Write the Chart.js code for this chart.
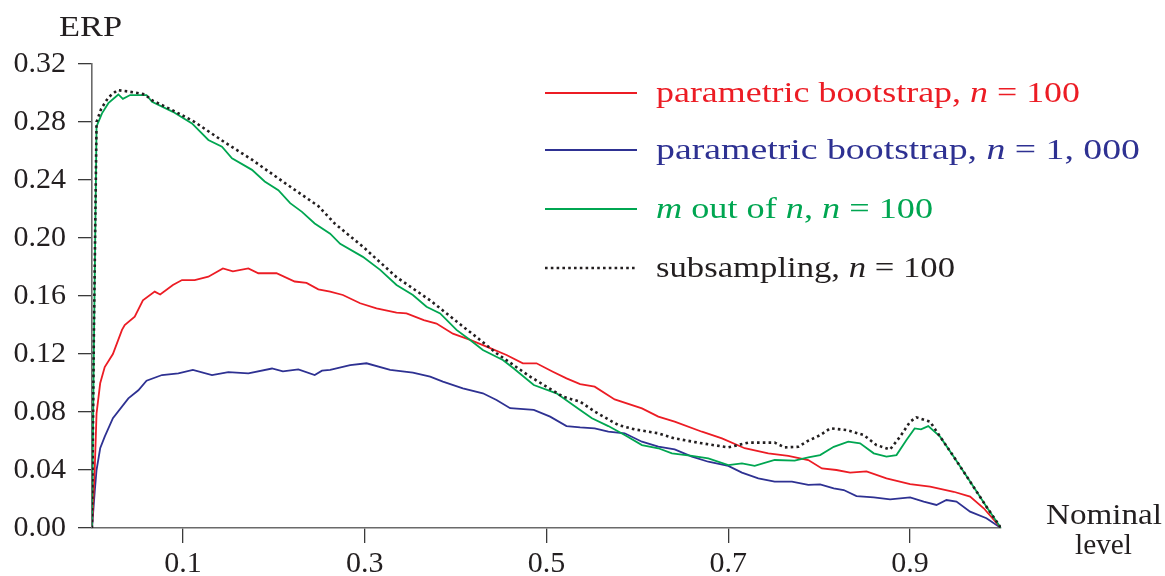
<!DOCTYPE html>
<html>
<head>
<meta charset="utf-8">
<script src="https://cdn.jsdelivr.net/npm/chart.js@4.4.0/dist/chart.umd.min.js"></script>
<style>
  html, body { margin: 0; padding: 0; background: #ffffff; }
  #wrap { width: 1165px; height: 576px; position: relative; }
</style>
</head>
<body>
<div id="wrap"><canvas id="c" width="1165" height="576"></canvas></div>
<script>
// ---------- data ----------
const xTicks = [0.1, 0.3, 0.5, 0.7, 0.9];
const yTicks = [0.00, 0.04, 0.08, 0.12, 0.16, 0.20, 0.24, 0.28, 0.32];

const xRed = [0, 0.003, 0.005, 0.009, 0.014, 0.023, 0.033, 0.036, 0.047, 0.056, 0.069, 0.075, 0.089, 0.099, 0.113, 0.128, 0.144, 0.155, 0.172, 0.183, 0.203, 0.223, 0.236, 0.249, 0.262, 0.276, 0.295, 0.313, 0.335, 0.346, 0.365, 0.379, 0.397, 0.416, 0.438, 0.456, 0.474, 0.489, 0.507, 0.522, 0.537, 0.553, 0.575, 0.605, 0.623, 0.641, 0.671, 0.693, 0.718, 0.744, 0.766, 0.788, 0.803, 0.819, 0.834, 0.852, 0.874, 0.900, 0.922, 0.948, 0.966, 0.981, 1.0];
const yRed = [0, 0.040, 0.079, 0.0998, 0.111, 0.120, 0.1366, 0.140, 0.1457, 0.157, 0.163, 0.161, 0.1676, 0.171, 0.171, 0.1733, 0.179, 0.177, 0.179, 0.1757, 0.1757, 0.170, 0.169, 0.1646, 0.163, 0.1607, 0.155, 0.1515, 0.1485, 0.148, 0.1434, 0.141, 0.134, 0.1297, 0.124, 0.1193, 0.1136, 0.1136, 0.1078, 0.1032, 0.0993, 0.0975, 0.0887, 0.0825, 0.0768, 0.0733, 0.0664, 0.0618, 0.055, 0.0515, 0.0497, 0.0469, 0.0411, 0.040, 0.0382, 0.0391, 0.0343, 0.0303, 0.0285, 0.025, 0.0216, 0.0136, 0];

const xBlue = [0, 0.003, 0.005, 0.009, 0.014, 0.023, 0.040, 0.051, 0.060, 0.077, 0.095, 0.111, 0.132, 0.150, 0.172, 0.198, 0.210, 0.227, 0.245, 0.253, 0.262, 0.284, 0.302, 0.328, 0.353, 0.372, 0.386, 0.408, 0.430, 0.445, 0.460, 0.486, 0.504, 0.522, 0.537, 0.553, 0.568, 0.586, 0.605, 0.623, 0.641, 0.660, 0.678, 0.700, 0.715, 0.733, 0.751, 0.770, 0.788, 0.801, 0.816, 0.827, 0.841, 0.860, 0.878, 0.900, 0.915, 0.929, 0.940, 0.951, 0.966, 0.984, 1.0];
const yBlue = [0, 0.025, 0.040, 0.055, 0.063, 0.0757, 0.0894, 0.095, 0.1016, 0.1055, 0.1067, 0.109, 0.1055, 0.1075, 0.1067, 0.110, 0.108, 0.1094, 0.1055, 0.1085, 0.109, 0.1124, 0.1136, 0.109, 0.1071, 0.1044, 0.101, 0.0963, 0.0929, 0.0883, 0.0826, 0.0814, 0.0768, 0.0703, 0.0694, 0.0687, 0.0664, 0.0653, 0.0595, 0.0561, 0.0542, 0.0492, 0.0457, 0.0428, 0.0382, 0.0343, 0.032, 0.032, 0.0297, 0.0301, 0.0274, 0.0262, 0.022, 0.0211, 0.0198, 0.0211, 0.0182, 0.0159, 0.0193, 0.0182, 0.0113, 0.0067, 0];

const xGreen = [0, 0.002, 0.005, 0.011, 0.018, 0.029, 0.034, 0.042, 0.060, 0.066, 0.089, 0.110, 0.128, 0.143, 0.154, 0.176, 0.190, 0.205, 0.218, 0.231, 0.245, 0.262, 0.273, 0.298, 0.317, 0.335, 0.353, 0.368, 0.383, 0.401, 0.416, 0.430, 0.452, 0.464, 0.486, 0.511, 0.537, 0.550, 0.568, 0.586, 0.605, 0.623, 0.638, 0.660, 0.678, 0.700, 0.715, 0.729, 0.751, 0.773, 0.788, 0.801, 0.816, 0.832, 0.845, 0.860, 0.874, 0.885, 0.896, 0.905, 0.912, 0.920, 0.933, 0.948, 0.966, 0.984, 1.0];
const yGreen = [0, 0.120, 0.277, 0.286, 0.293, 0.299, 0.296, 0.2986, 0.2986, 0.294, 0.287, 0.279, 0.2676, 0.263, 0.255, 0.247, 0.239, 0.233, 0.224, 0.218, 0.210, 0.203, 0.196, 0.187, 0.178, 0.1676, 0.1607, 0.1526, 0.148, 0.1366, 0.1297, 0.1228, 0.1159, 0.110, 0.0986, 0.0929, 0.0814, 0.0757, 0.0703, 0.0641, 0.0572, 0.055, 0.0515, 0.0497, 0.048, 0.0434, 0.0446, 0.0428, 0.0469, 0.0464, 0.0487, 0.0503, 0.056, 0.0595, 0.0584, 0.0515, 0.0492, 0.0503, 0.0607, 0.0687, 0.068, 0.0703, 0.063, 0.0492, 0.032, 0.0147, 0];

const xSub = [0, 0.002, 0.005, 0.010, 0.018, 0.028, 0.040, 0.050, 0.058, 0.066, 0.089, 0.113, 0.146, 0.176, 0.212, 0.249, 0.267, 0.298, 0.335, 0.372, 0.408, 0.427, 0.445, 0.482, 0.518, 0.537, 0.553, 0.579, 0.597, 0.623, 0.641, 0.671, 0.700, 0.722, 0.751, 0.762, 0.777, 0.788, 0.801, 0.812, 0.830, 0.849, 0.863, 0.878, 0.889, 0.900, 0.907, 0.922, 0.933, 0.948, 0.966, 0.984, 1.0];
const ySub = [0, 0.130, 0.280, 0.289, 0.297, 0.302, 0.301, 0.300, 0.299, 0.295, 0.288, 0.280, 0.266, 0.254, 0.238, 0.222, 0.210, 0.194, 0.173, 0.157, 0.139, 0.1297, 0.1205, 0.1044, 0.0906, 0.0871, 0.0803, 0.071, 0.068, 0.0653, 0.0618, 0.0584, 0.0556, 0.0589, 0.0589, 0.0556, 0.056, 0.0602, 0.064, 0.0687, 0.0676, 0.0641, 0.0572, 0.0542, 0.063, 0.0733, 0.0763, 0.0733, 0.063, 0.0492, 0.032, 0.0147, 0];

// ---------- styles ----------
const RED = '#ec1c24', BLUE = '#2e3192', GREEN = '#00a651', BLACK = '#231f20';
const FONT = '"Liberation Serif", "Times New Roman", serif';
const DOT = [2.6, 3.2];

const toPts = (xs, ys) => xs.map((x, i) => ({ x: x, y: ys[i] }));

const legendItems = [
  { color: RED, dash: null, end: 1080, parts: [['parametric bootstrap, ', 0], ['n', 1], [' = 100', 0]] },
  { color: BLUE, dash: null, end: 1140, parts: [['parametric bootstrap, ', 0], ['n', 1], [' = 1, 000', 0]] },
  { color: GREEN, dash: null, end: 933, parts: [['m', 1], [' out of ', 0], ['n', 1], [', ', 0], ['n', 1], [' = 100', 0]] },
  { color: BLACK, dash: DOT, end: 955, parts: [['subsampling, ', 0], ['n', 1], [' = 100', 0]] }
];

// draw text parts starting at x, stretched horizontally (wider glyphs) to reach endX
function drawParts(ctx, parts, x, y, endX) {
  let w = 0;
  parts.forEach(p => {
    ctx.font = (p[1] ? 'italic ' : '') + '30px ' + FONT;
    w += ctx.measureText(p[0]).width;
  });
  const sx = w > 0 ? (endX - x) / w : 1;
  ctx.save();
  ctx.translate(x, y);
  ctx.scale(sx, 1);
  let cx = 0;
  parts.forEach(p => {
    ctx.font = (p[1] ? 'italic ' : '') + '30px ' + FONT;
    ctx.fillText(p[0], cx, 0);
    cx += ctx.measureText(p[0]).width;
  });
  ctx.restore();
}

const annot = {
  id: 'annot',
  afterDraw(chart) {
    const ctx = chart.ctx;
    ctx.save();
    ctx.fillStyle = BLACK;
    ctx.textBaseline = 'alphabetic';
    ctx.textAlign = 'left';
    drawParts(ctx, [['ERP', 0]], 59, 36, 122);
    drawParts(ctx, [['Nominal', 0]], 1046, 524, 1162);
    drawParts(ctx, [['level', 0]], 1075, 554, 1132);
    // legend
    const ys = [93, 150, 209, 268];
    legendItems.forEach((it, i) => {
      const y = ys[i];
      ctx.beginPath();
      ctx.strokeStyle = it.color;
      ctx.lineWidth = it.dash ? 2.6 : 1.8;
      ctx.setLineDash(it.dash || []);
      ctx.moveTo(545, y);
      ctx.lineTo(637, y);
      ctx.stroke();
      ctx.setLineDash([]);
      ctx.fillStyle = it.color;
      drawParts(ctx, it.parts, 656, y + 9, it.end);
    });
    ctx.restore();
  }
};

const ds = (label, xs, ys, color, dash, order) => ({
  label: label,
  data: toPts(xs, ys),
  borderColor: color,
  backgroundColor: color,
  borderWidth: dash ? 2.6 : 1.8,
  borderDash: dash || [],
  pointRadius: 0,
  tension: 0,
  fill: false,
  order: order
});

new Chart(document.getElementById('c'), {
  type: 'line',
  data: {
    datasets: [
      ds('parametric bootstrap, n = 100', xRed, yRed, RED, null, 2),
      ds('parametric bootstrap, n = 1,000', xBlue, yBlue, BLUE, null, 3),
      ds('m out of n, n = 100', xGreen, yGreen, GREEN, null, 1),
      ds('subsampling, n = 100', xSub, ySub, BLACK, DOT, 0)
    ]
  },
  options: {
    responsive: false,
    animation: false,
    events: [],
    layout: { padding: { left: 0, top: 64, right: 164, bottom: 0 } },
    plugins: { legend: { display: false }, tooltip: { enabled: false }, title: { display: false } },
    scales: {
      x: {
        type: 'linear', min: 0, max: 1,
        afterBuildTicks: s => { s.ticks = xTicks.map(v => ({ value: v })); },
        afterFit: s => { s.height = 48; },
        grid: { display: true, drawOnChartArea: false, drawTicks: true, tickLength: 15, color: '#3a3a3a', lineWidth: 1.3 },
        border: { display: true, color: '#6a6a6a', width: 1.6 },
        ticks: { color: BLACK, font: { family: FONT, size: 30 }, padding: 3, maxRotation: 0, autoSkip: false,
                 callback: v => Number(v).toFixed(1) }
      },
      y: {
        type: 'linear', min: 0, max: 0.32,
        afterBuildTicks: s => { s.ticks = yTicks.map(v => ({ value: v })); },
        afterFit: s => { s.width = 92; },
        grid: { display: true, drawOnChartArea: false, drawTicks: true, tickLength: 14, color: '#3a3a3a', lineWidth: 1.3 },
        border: { display: true, color: '#6a6a6a', width: 1.6 },
        ticks: { color: BLACK, font: { family: FONT, size: 30 }, padding: 12, autoSkip: false,
                 callback: v => Number(v).toFixed(2) }
      }
    }
  },
  plugins: [annot]
});
</script>
</body>
</html>
